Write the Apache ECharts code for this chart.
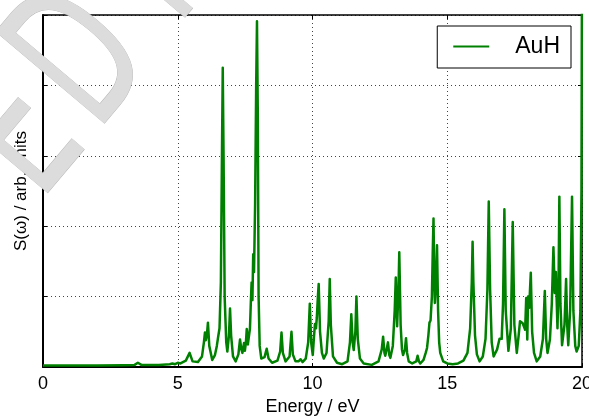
<!DOCTYPE html>
<html>
<head>
<meta charset="utf-8">
<script src="https://cdn.jsdelivr.net/npm/echarts@6/dist/echarts.min.js"></script>
<style>
  html, body { margin: 0; padding: 0; background: #fff; }
  #chart { width: 589px; height: 419px; }
</style>
</head>
<body>
<div id="chart"></div>
<script>
  // spectrum: energy (eV) and S(w)
  var energy = [
    0, 1.0, 2.0, 3.0, 3.4, 3.52, 3.65, 4.3, 4.7, 4.8, 4.9, 5.0, 5.1, 5.3, 5.44, 5.55, 5.75, 5.9, 5.97, 6.01,
    6.04, 6.08, 6.12, 6.17, 6.28, 6.38, 6.45, 6.5, 6.55, 6.6, 6.64, 6.67, 6.70, 6.74, 6.8, 6.84, 6.9, 6.94, 6.98, 7.05,
    7.15, 7.25, 7.31, 7.36, 7.4, 7.46, 7.49, 7.53, 7.56, 7.6, 7.63, 7.68, 7.71, 7.74, 7.77, 7.8, 7.83, 7.87, 7.91, 7.94,
    7.97, 8.0, 8.04, 8.1, 8.22, 8.3, 8.37, 8.5, 8.7, 8.8, 8.85, 8.9, 9.0, 9.15, 9.22, 9.27, 9.37, 9.48, 9.56, 9.63,
    9.75, 9.84, 9.9, 9.95, 10.01, 10.05, 10.09, 10.13, 10.16, 10.2, 10.23, 10.28, 10.35, 10.42, 10.52, 10.6, 10.64, 10.68, 10.76, 10.91,
    11.1, 11.3, 11.39, 11.44, 11.49, 11.53, 11.59, 11.63, 11.68, 11.76, 11.9, 12.2, 12.45, 12.57, 12.62, 12.67, 12.7, 12.75, 12.8, 12.85,
    12.89, 12.98, 13.05, 13.09, 13.14, 13.19, 13.22, 13.27, 13.32, 13.36, 13.43, 13.47, 13.51, 13.57, 13.7, 13.85, 13.9, 13.95, 14.0, 14.12,
    14.2, 14.25, 14.3, 14.34, 14.38, 14.43, 14.46, 14.49, 14.52, 14.54, 14.58, 14.62, 14.66, 14.7, 14.74, 14.85, 15.0, 15.2, 15.4, 15.6,
    15.75, 15.85, 15.91, 15.94, 15.97, 16.03, 16.1, 16.2, 16.32, 16.42, 16.49, 16.54, 16.59, 16.65, 16.72, 16.85, 16.94, 17.02, 17.07, 17.12,
    17.17, 17.27, 17.36, 17.43, 17.49, 17.58, 17.65, 17.7, 17.8, 17.89, 17.93, 17.97, 18.0, 18.04, 18.1, 18.15, 18.22, 18.32, 18.45, 18.55,
    18.62, 18.67, 18.72, 18.81, 18.88, 18.94, 18.99, 19.03, 19.09, 19.13, 19.16, 19.2, 19.26, 19.35, 19.41, 19.45, 19.49, 19.56, 19.63, 19.68,
    19.75, 19.8, 19.88, 19.94, 19.98, 20.0
  ];
  var intensity = [
    0.02, 0.02, 0.02, 0.025, 0.03, 0.06, 0.03, 0.03, 0.04, 0.05, 0.04, 0.06, 0.05, 0.09, 0.2, 0.08, 0.07, 0.15, 0.35, 0.49,
    0.38, 0.45, 0.63, 0.3, 0.1, 0.17, 0.3, 0.43, 0.55, 1.2, 3.0, 4.25, 3.0, 1.0, 0.35, 0.22, 0.45, 0.83, 0.45, 0.15,
    0.08, 0.18, 0.39, 0.25, 0.2, 0.34, 0.23, 0.35, 0.54, 0.32, 0.3, 0.55, 0.9, 1.2, 0.95, 1.6, 1.35, 2.3, 4.0, 4.91,
    3.6, 1.0, 0.3, 0.12, 0.14, 0.26, 0.12, 0.06, 0.09, 0.22, 0.49, 0.2, 0.08, 0.15, 0.5, 0.18, 0.08, 0.08, 0.11, 0.07,
    0.12, 0.35, 0.9, 0.35, 0.17, 0.4, 0.61, 0.55, 0.7, 1.0, 1.18, 0.5, 0.2, 0.12, 0.2, 0.65, 1.25, 0.6, 0.15, 0.06,
    0.04, 0.08, 0.35, 0.75, 0.35, 0.24, 0.5, 1.0, 0.4, 0.12, 0.05, 0.03, 0.08, 0.25, 0.43, 0.2, 0.16, 0.25, 0.35, 0.17,
    0.13, 0.3, 0.8, 1.27, 0.58, 1.1, 1.63, 0.6, 0.25, 0.17, 0.25, 0.41, 0.2, 0.08, 0.05, 0.08, 0.16, 0.08, 0.05, 0.1,
    0.2, 0.27, 0.45, 0.63, 0.66, 1.0, 1.6, 2.11, 1.2, 0.91, 1.2, 1.73, 0.8, 0.35, 0.2, 0.08, 0.05, 0.04, 0.05, 0.09,
    0.2, 0.55, 1.2, 1.78, 1.2, 0.45, 0.18, 0.08, 0.15, 0.4, 1.1, 2.35, 1.1, 0.35, 0.15, 0.25, 0.4, 0.4, 0.9, 2.24,
    0.8, 0.23, 0.55, 2.06, 0.6, 0.2, 0.45, 0.65, 0.62, 0.53, 0.98, 0.39, 1.0, 0.84, 1.34, 0.5, 0.2, 0.08, 0.15, 0.4,
    1.08, 0.4, 0.2, 0.39, 0.9, 1.7, 1.05, 1.35, 0.55, 1.2, 2.42, 0.9, 0.31, 0.6, 1.25, 0.6, 0.31, 0.8, 2.42, 0.8,
    0.3, 0.22, 0.3, 0.8, 2.5, 6.0
  ];
  var xTicks = [0, 5, 10, 15, 20];
  var seriesName = 'AuH';

  var points = energy.map(function (e, i) { return [e, intensity[i]]; });
  var font = 'Liberation Sans, Arial, sans-serif';

  // watermark glyph, grey with a soft shadow, tilted like the original
  function mark(ch, x, y) {
    return {
      type: 'text',
      z: 100,
      x: x, y: y,
      rotation: 0.87,
      scaleX: 0.62,
      style: {
        text: ch,
        x: 0, y: 0,
        align: 'center',
        verticalAlign: 'middle',
        font: '195px DejaVu Sans',
        fill: '#dcdcdc',
        stroke: '#b8b8b8',
        lineWidth: 1,
        shadowBlur: 6,
        shadowColor: 'rgba(0,0,0,0.35)',
        shadowOffsetX: 3,
        shadowOffsetY: 3
      }
    };
  }

  var chart = echarts.init(document.getElementById('chart'), null, { renderer: 'canvas' });
  chart.setOption({
    animation: false,
    backgroundColor: '#fff',
    grid: { left: 43, right: 7, top: 15, bottom: 52, outerBoundsMode: 'none' },
    legend: {
      data: [{ name: seriesName, icon: 'rect' }],
      right: 18,
      top: 26,
      orient: 'vertical',
      backgroundColor: '#fff',
      borderColor: '#000',
      borderWidth: 1,
      borderRadius: 0,
      padding: [9, 11, 10, 16],
      itemWidth: 36,
      itemHeight: 2,
      textStyle: { fontFamily: font, fontSize: 23, color: '#000', padding: [0, 0, 0, 21] }
    },
    xAxis: [{
      type: 'value',
      min: 0, max: 20, interval: 5,
      name: 'Energy / eV',
      nameLocation: 'middle',
      nameGap: 31,
      nameTextStyle: { fontFamily: font, fontSize: 18, color: '#000' },
      axisLine: { lineStyle: { color: '#000', width: 2 } },
      axisTick: { inside: true, length: 4, lineStyle: { color: '#000' } },
      axisLabel: {
        margin: 8, fontFamily: font, fontSize: 18, color: '#000',
        formatter: function (v) { return xTicks.indexOf(v) >= 0 ? String(v) : ''; }
      },
      splitLine: { show: true, lineStyle: { color: '#444', type: [1, 3], width: 1 } }
    }, {
      type: 'value', position: 'top',
      min: 0, max: 20, interval: 5,
      axisLine: { show: true, onZero: false, lineStyle: { color: '#000', width: 1.5 } },
      axisTick: { inside: true, length: 4, lineStyle: { color: '#000' } },
      axisLabel: { show: false },
      splitLine: { show: false }
    }],
    yAxis: [{
      type: 'value',
      min: 0, max: 5, interval: 1,
      name: 'S(\u03c9) / arb. units',
      nameLocation: 'middle',
      nameGap: 13,
      nameTextStyle: { fontFamily: font, fontSize: 17, color: '#000' },
      axisLine: { show: true, lineStyle: { color: '#000', width: 2 } },
      axisTick: { show: true, inside: true, length: 4, lineStyle: { color: '#000' } },
      axisLabel: { show: false },
      splitLine: { show: true, lineStyle: { color: '#444', type: [1, 3], width: 1 } }
    }, {
      type: 'value', position: 'right',
      min: 0, max: 5, interval: 1,
      axisLine: { show: true, onZero: false, lineStyle: { color: '#000', width: 1.5 } },
      axisTick: { show: true, inside: true, length: 4, lineStyle: { color: '#000' } },
      axisLabel: { show: false },
      splitLine: { show: false }
    }],
    series: [{
      name: seriesName,
      type: 'line',
      data: points,
      symbol: 'none',
      clip: true,
      lineStyle: { color: '#008000', width: 2.5, join: 'round' },
      itemStyle: { color: '#008000' }
    }],
    graphic: [mark('E', 26, 140), mark('D', 88, 64), mark('I', 150, -20)]
  });
</script>
</body>
</html>
